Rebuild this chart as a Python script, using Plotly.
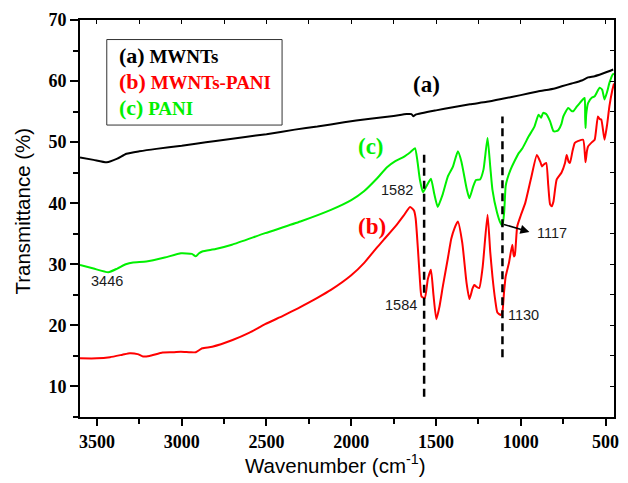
import plotly.graph_objects as go

# FTIR spectra: wavenumber (cm-1) vs transmittance (%)
wn_a = [3600, 3520, 3442, 3380, 3326, 3250, 3150, 3000, 2917, 2800, 2625, 2500,
        2333, 2200, 2042, 1900, 1750, 1673, 1645, 1634, 1620, 1500, 1400, 1300,
        1200, 1108, 1000, 900, 800, 758, 700, 640, 603, 564, 520, 480, 455]
t_a = [47.5, 47.1, 46.7, 47.3, 48.1, 48.5, 48.9, 49.4, 49.75, 50.2, 50.85, 51.3,
       52.05, 52.55, 53.25, 53.8, 54.3, 54.6, 54.6, 54.25, 54.5, 55.2, 55.7, 56.2,
       56.6, 57.1, 57.7, 58.3, 58.8, 59.15, 59.6, 60.1, 60.6, 60.8, 61.2, 61.6, 61.9]

wn_b = [3600, 3500, 3423, 3350, 3306, 3260, 3228, 3190, 3112, 3050, 3005, 2950,
        2917, 2879, 2820, 2700, 2600, 2508, 2400, 2314, 2200, 2120, 2000, 1925,
        1850, 1809, 1731, 1690, 1653, 1630, 1620, 1605, 1595, 1585, 1566, 1548,
        1530, 1515, 1498, 1480, 1459, 1430, 1410, 1391, 1371, 1345, 1320, 1303,
        1285, 1274, 1260, 1245, 1225, 1196, 1180, 1167, 1150, 1138, 1118, 1108,
        1099, 1089, 1070, 1050, 1041, 1035, 1021, 1000, 973, 940, 905, 885, 875,
        866, 850, 838, 827, 817, 807, 788, 760, 739, 729, 718, 710, 695, 681,
        660, 632, 618, 610, 603, 580, 564, 545, 535, 525, 506, 490, 477, 460, 450]
t_b = [14.6, 14.6, 14.8, 15.2, 15.45, 15.3, 14.9, 15.0, 15.55, 15.6, 15.7, 15.6,
       15.6, 16.25, 16.5, 17.6, 18.8, 20.2, 21.6, 22.8, 24.5, 25.8, 28.2, 30.2,
       32.7, 34.0, 36.5, 38.0, 39.4, 38.8, 37.5, 31.8, 27.5, 24.7, 24.5, 27.6,
       29.1, 25.0, 21.0, 23.0, 26.5, 31.0, 34.2, 35.9, 37.0, 33.5, 27.0, 24.3,
       26.0, 26.6, 26.3, 26.1, 29.5, 38.1, 32.0, 28.0, 24.0, 22.1, 21.7, 22.3,
       25.3, 28.0, 30.2, 33.2, 31.3, 31.5, 36.2, 38.0, 40.1, 44.0, 47.9, 46.8, 46.0,
       46.3, 46.6, 43.0, 39.8, 39.5, 40.3, 43.9, 45.0, 46.6, 47.9, 46.8, 46.6, 48.5, 49.9,
       50.2, 50.4, 46.7, 48.5, 49.3, 50.0, 50.4, 54.2, 53.8, 53.7, 50.4, 53.0, 55.9, 58.5, 59.6]

wn_c = [3600, 3520, 3433, 3380, 3330, 3287, 3209, 3100, 3005, 2940, 2917, 2898,
        2879, 2800, 2704, 2508, 2300, 2120, 2000, 1925, 1850, 1789, 1740, 1690,
        1650, 1624, 1610, 1595, 1577, 1560, 1530, 1510, 1490, 1460, 1430, 1400,
        1371, 1350, 1320, 1303, 1280, 1264, 1240, 1220, 1196, 1180, 1167, 1140,
        1120, 1108, 1098, 1089, 1079, 1060, 1040, 1012, 990, 953, 920, 895, 880,
        868, 850, 827, 807, 790, 778, 760, 749, 720, 700, 691, 670, 652, 630, 623,
        620, 618, 614, 603, 580, 564, 535, 520, 506, 490, 477, 457, 450]
t_c = [29.9, 29.3, 28.7, 29.3, 30.0, 30.3, 30.45, 31.1, 31.8, 31.7, 31.3, 31.8,
       32.1, 32.5, 33.2, 35.1, 37.0, 38.9, 40.5, 41.95, 44.0, 45.9, 46.9, 47.6,
       48.4, 49.0, 47.0, 43.85, 41.8, 42.6, 44.0, 41.5, 39.4, 41.5, 44.4, 46.0,
       48.5, 46.8, 42.5, 40.8, 42.8, 43.8, 43.9, 45.5, 50.7, 46.0, 42.2, 38.5,
       36.8, 36.3, 38.5, 42.8, 44.0, 45.5, 46.7, 48.2, 49.0, 50.95, 52.5, 54.5, 54.0,
       54.8, 54.6, 53.4, 51.8, 51.8, 52.0, 53.0, 54.2, 55.6, 55.1, 55.05, 55.8, 56.4, 57.1, 57.25,
       54.0, 52.3, 54.5, 56.4, 57.3, 57.5, 58.9, 58.6, 57.0, 58.3, 59.7, 61.1, 61.2]

# Dashed guide lines through the main bands
guide_wn = [1570, 1108]
guide_lo = [8.3, 14.8]
guide_hi = [48.3, 54.2]

# Peak labels: text, wavenumber, transmittance
peak_text = ["3446", "1582", "1584", "1130", "1117"]
peak_wn = [3442, 1731, 1708, 984, 815]
peak_t = [27.2, 42.1, 23.4, 21.7, 35.2]

# Curve tags
tag_text = ["(a)", "(b)", "(c)"]
tag_wn = [1556, 1877, 1883]
tag_t = [59.4, 36.2, 49.3]

BLACK, RED, GREEN = "#000000", "#ff0000", "#00f000"
colors = [BLACK, RED, GREEN]
names = ["MWNTs", "MWNTs-PANI", "PANI"]

fig = go.Figure()

for wn, t, c in [(wn_a, t_a, BLACK), (wn_c, t_c, GREEN), (wn_b, t_b, RED)]:
    fig.add_trace(go.Scatter(x=wn, y=t, mode="lines",
                             line=dict(color=c, width=2, shape="spline", smoothing=0.5),
                             showlegend=False, hoverinfo="skip"))

for gx, lo, hi in zip(guide_wn, guide_lo, guide_hi):
    fig.add_trace(go.Scatter(x=[gx, gx], y=[lo, hi], mode="lines",
                             line=dict(color="black", width=2.5, dash="8px,5px"),
                             showlegend=False, hoverinfo="skip"))

# helper traces so the mirrored tick axes are drawn
fig.add_trace(go.Scatter(x=[None], y=[None], xaxis="x2", yaxis="y", showlegend=False))
fig.add_trace(go.Scatter(x=[None], y=[None], xaxis="x", yaxis="y2", showlegend=False))

serif_bold = dict(family="Liberation Serif", size=18, color="black", weight="bold")

annotations = []
for txt, x, y in zip(peak_text, peak_wn, peak_t):
    annotations.append(dict(x=x, y=y, text=txt, showarrow=False,
                            font=dict(family="Liberation Sans", size=14.5, color="#1a1a1a")))
for txt, x, y, c in zip(tag_text, tag_wn, tag_t, colors):
    annotations.append(dict(x=x, y=y, text=txt, showarrow=False,
                            font=dict(family="Liberation Serif", size=23, color=c, weight="bold")))

# arrow from the 1117 band to its label
annotations.append(dict(x=949, y=35.3, ax=1108, ay=36.6, axref="x", ayref="y",
                        text="", showarrow=True, arrowhead=2, arrowsize=1.2,
                        arrowwidth=1.5, arrowcolor="black"))

# legend box entries
leg_y = [64.2, 59.9, 55.7]
for tag, name, c, y in zip(tag_text, names, colors, leg_y):
    annotations.append(dict(x=3382, y=y, xanchor="left", yanchor="middle",
                            text=f"<span style='font-size:22px'>{tag}</span> {name}",
                            showarrow=False,
                            font=dict(family="Liberation Serif", size=19, color=c, weight="bold")))

# axis titles
annotations.append(dict(xref="paper", yref="paper", x=(338 - 80) / 539, y=(417 - 464) / 397,
                        xanchor="center", yanchor="middle",
                        text="Wavenumber (cm<sup>-1</sup>)", showarrow=False,
                        font=dict(family="Liberation Sans", size=20.5, color="black")))
annotations.append(dict(xref="paper", yref="paper", x=(22 - 80) / 539, y=(417 - 211) / 397,
                        xanchor="center", yanchor="middle",
                        text="Transmittance (%)", textangle=-90, showarrow=False,
                        font=dict(family="Liberation Sans", size=20.5, color="black")))

fig.update_layout(
    width=628, height=483,
    margin=dict(l=80, r=9, t=20, b=66),
    paper_bgcolor="white", plot_bgcolor="white",
    annotations=annotations,
    shapes=[dict(type="rect", x0=3442, x1=2408, y0=52.8, y1=66.8,
                 line=dict(color="#333333", width=1), fillcolor="rgba(0,0,0,0)")],
    xaxis=dict(range=[3600, 450], tick0=500, dtick=500, ticks="outside", ticklen=7,
               tickwidth=1.5, tickcolor="black", showline=True, linewidth=2, linecolor="black",
               mirror=True, showgrid=False, zeroline=False, tickfont=serif_bold,
               minor=dict(dtick=250, tick0=500, ticks="outside", ticklen=5, tickwidth=1.5,
                          tickcolor="black", showgrid=False)),
    yaxis=dict(range=[5, 70], tick0=0, dtick=10, ticks="outside", ticklen=8,
               tickwidth=1.5, tickcolor="black", showline=True, linewidth=2, linecolor="black",
               mirror=True, showgrid=False, zeroline=False, tickfont=serif_bold,
               minor=dict(dtick=5, tick0=0, ticks="outside", ticklen=5, tickwidth=1.5,
                          tickcolor="black", showgrid=False)),
    xaxis2=dict(overlaying="x", side="top", anchor="y", range=[3600, 450], tick0=0, dtick=250,
                ticks="inside", ticklen=4, tickwidth=1.2, tickcolor="black",
                showticklabels=False, showgrid=False, zeroline=False, showline=False),
    yaxis2=dict(overlaying="y", side="right", anchor="x", range=[5, 70], tick0=0, dtick=5,
                ticks="inside", ticklen=4, tickwidth=1.2, tickcolor="black",
                showticklabels=False, showgrid=False, zeroline=False, showline=False),
)

fig.write_html("out.html")
